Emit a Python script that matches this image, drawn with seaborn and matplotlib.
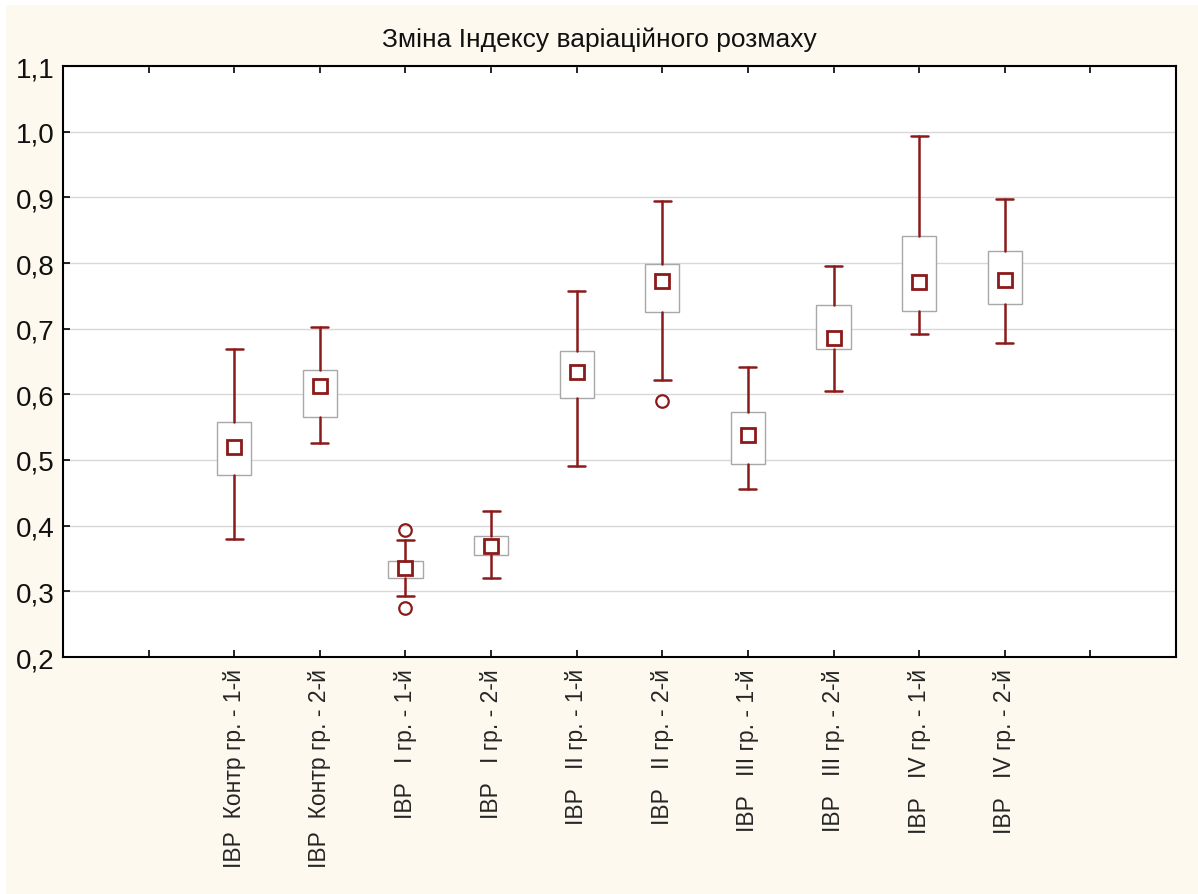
import matplotlib
matplotlib.use("Agg")
import matplotlib.pyplot as plt
import matplotlib.patches as mpatches
import seaborn as sns

categories = ["ІВР  Контр гр. - 1-й", "ІВР  Контр гр. - 2-й",
              "ІВР   І гр. - 1-й", "ІВР   І гр. - 2-й",
              "ІВР   ІІ гр. - 1-й", "ІВР   ІІ гр. - 2-й",
              "ІВР   ІІІ гр. - 1-й", "ІВР   ІІІ гр. - 2-й",
              "ІВР   IV гр. - 1-й", "ІВР   IV гр. - 2-й"]
medians = [0.520, 0.613, 0.335, 0.369, 0.634, 0.773, 0.538, 0.686, 0.771, 0.774]
q1 = [0.477, 0.565, 0.320, 0.355, 0.594, 0.725, 0.494, 0.669, 0.727, 0.738]
q3 = [0.558, 0.637, 0.346, 0.384, 0.666, 0.798, 0.573, 0.736, 0.841, 0.818]
whislo = [0.380, 0.526, 0.293, 0.320, 0.491, 0.622, 0.456, 0.605, 0.692, 0.678]
whishi = [0.669, 0.703, 0.378, 0.422, 0.757, 0.894, 0.642, 0.795, 0.993, 0.897]
outliers = [[], [], [0.393, 0.275], [], [], [0.590], [], [], [], []]
title = "Зміна Індексу варіаційного розмаху"

sns.set_theme(style="white")
plt.rcParams['font.family'] = ['Liberation Sans', 'DejaVu Sans']

fig = plt.figure(figsize=(11.98, 8.95), dpi=100)
fig.patch.set_facecolor("white")
fig.patches.append(mpatches.Rectangle((6 / 1198, -0.01), 1.02, 1.01 - 6 / 895,
                                      transform=fig.transFigure, facecolor="#fdf9ef",
                                      edgecolor="none", zorder=-10))
ax = fig.add_axes([63 / 1198, 1 - 658 / 895, (1176 - 63) / 1198, (658 - 67) / 895])
ax.set_facecolor("white")

red = "#8b1a1a"
positions = list(range(2, 12))
stats = []
for i in range(len(categories)):
    stats.append(dict(med=medians[i], q1=q1[i], q3=q3[i], whislo=whislo[i],
                      whishi=whishi[i], fliers=outliers[i], label=categories[i]))

ax.bxp(stats, positions=positions, widths=0.4, capwidths=0.2, patch_artist=True,
       showfliers=True,
       boxprops=dict(facecolor="white", edgecolor="#a8a8a8", linewidth=1.0),
       whiskerprops=dict(color=red, linewidth=1.8),
       capprops=dict(color=red, linewidth=1.8),
       medianprops=dict(linestyle="none"),
       flierprops=dict(marker="o", markerfacecolor="none", markeredgecolor=red,
                       markersize=9, markeredgewidth=1.6, linestyle="none"),
       zorder=3)
ax.plot(positions, medians, linestyle="none", marker="s", markersize=10,
        markerfacecolor="none", markeredgecolor=red, markeredgewidth=2.0, zorder=5)

ax.set_xlim(0, 13)
ax.set_ylim(0.2, 1.1)
yt = [0.2, 0.3, 0.4, 0.5, 0.6, 0.7, 0.8, 0.9, 1.0, 1.1]
ax.set_yticks(yt)
ax.set_yticklabels([f"{v:.1f}".replace(".", ",") for v in yt], fontsize=20)
ax.set_xticks(list(range(1, 13)))
ax.set_xticklabels([""] + categories + [""], rotation=90, fontsize=16.5)
ax.yaxis.grid(True, color="#d8d8d8", linewidth=1.0)
ax.set_axisbelow(True)
ax.tick_params(axis="x", which="both", direction="in", top=True, bottom=True,
               length=5, width=1.2, color="black", pad=8)
ax.tick_params(axis="y", direction="in", left=True, right=False, length=5,
               width=1.2, color="black", pad=6, labelcolor="#111111")
for s in ax.spines.values():
    s.set_visible(True)
    s.set_color("black")
    s.set_linewidth(1.5)

fig.text(0.5, 1 - 40 / 895, title, ha="center", va="center", fontsize=19, color="#111111")

fig.savefig("out.png", dpi=100, facecolor=fig.get_facecolor())
